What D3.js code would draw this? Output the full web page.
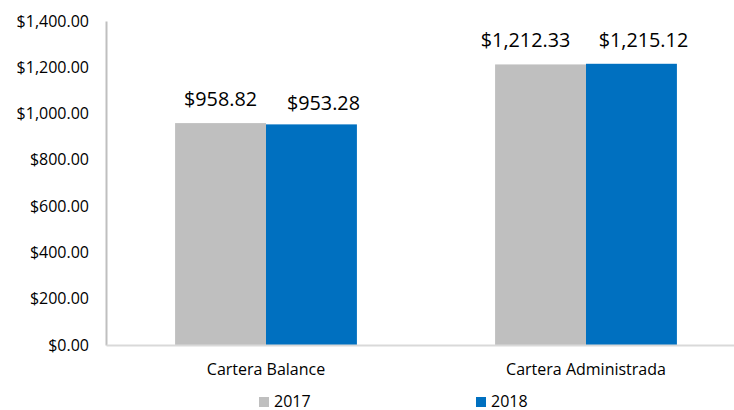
<!DOCTYPE html>
<html lang="es">
<head>
<meta charset="UTF-8">
<title>Cartera</title>
<style>
    body { margin: 0; background: #fff; }
    svg text { font-family: "Open Sans", sans-serif; fill: #000; }
</style>
</head>
<body>
<svg id="chart" width="734" height="410"></svg>
<script src="https://d3js.org/d3.v7.min.js"></script>
<script>
// data
var categories = ["Cartera Balance", "Cartera Administrada"];
var series = ["2017", "2018"];
var values2017 = [958.82, 1212.33];
var values2018 = [953.28, 1215.12];
var yTicks = [0, 200, 400, 600, 800, 1000, 1200, 1400];
var colors = ["#bfbfbf", "#0070c0"];
// hand-nudged label positions in the original (dx, dy), per category and series
var labelNudge = [[[0, 0], [12, 3]], [[-15, 0], [12, 0]]];

var svg = d3.select("#chart");
var margin = { left: 106, top: 21, bottom: 345, right: 746 };

var x = d3.scaleBand().domain(categories).range([margin.left, margin.right]);
var xInner = d3.scaleBand().domain(series).range([0, x.bandwidth()]).paddingOuter(0.76);
var y = d3.scaleLinear().domain([0, 1400]).range([margin.bottom, margin.top]);

var fmt = d3.format("$,.2f");

// y axis
var yAxis = svg.append("g")
    .attr("transform", "translate(" + margin.left + ",0)")
    .call(d3.axisLeft(y).tickValues(yTicks).tickFormat(fmt).tickSize(0).tickPadding(17));
yAxis.select(".domain").attr("stroke", "#bfbfbf").attr("stroke-width", 2);
yAxis.selectAll("text").style("font-size", "16px");

// bars
var data = [];
categories.forEach(function(c, i) {
    data.push({ cat: c, s: "2017", v: values2017[i], n: labelNudge[i][0] });
    data.push({ cat: c, s: "2018", v: values2018[i], n: labelNudge[i][1] });
});

svg.append("g").selectAll("rect")
    .data(data)
    .enter().append("rect")
    .attr("x", function(d) { return x(d.cat) + xInner(d.s); })
    .attr("width", xInner.bandwidth())
    .attr("y", function(d) { return y(d.v); })
    .attr("height", function(d) { return y(0) - y(d.v); })
    .attr("fill", function(d) { return colors[series.indexOf(d.s)]; });

// value labels
svg.append("g").selectAll("text")
    .data(data)
    .enter().append("text")
    .attr("x", function(d) { return x(d.cat) + xInner(d.s) + xInner.bandwidth() / 2 + d.n[0]; })
    .attr("y", function(d) { return y(d.v) - 17 + d.n[1]; })
    .attr("text-anchor", "middle")
    .style("font-size", "19.8px")
    .text(function(d) { return fmt(d.v); });

// x axis
var xAxis = svg.append("g")
    .attr("transform", "translate(0," + margin.bottom + ")")
    .call(d3.axisBottom(x).tickSize(0).tickPadding(19));
xAxis.select(".domain").attr("stroke", "#d9d9d9").attr("stroke-width", 2);
xAxis.selectAll("text").style("font-size", "16px");

// legend
var legendX = [259, 476];
var legend = svg.append("g").selectAll("g")
    .data(series)
    .enter().append("g")
    .attr("transform", function(d, i) { return "translate(" + legendX[i] + ",397)"; });
legend.append("rect")
    .attr("width", 10).attr("height", 10)
    .attr("fill", function(d, i) { return colors[i]; });
legend.append("text")
    .attr("x", 15).attr("y", 9.5)
    .style("font-size", "16px")
    .text(function(d) { return d; });
</script>
</body>
</html>
